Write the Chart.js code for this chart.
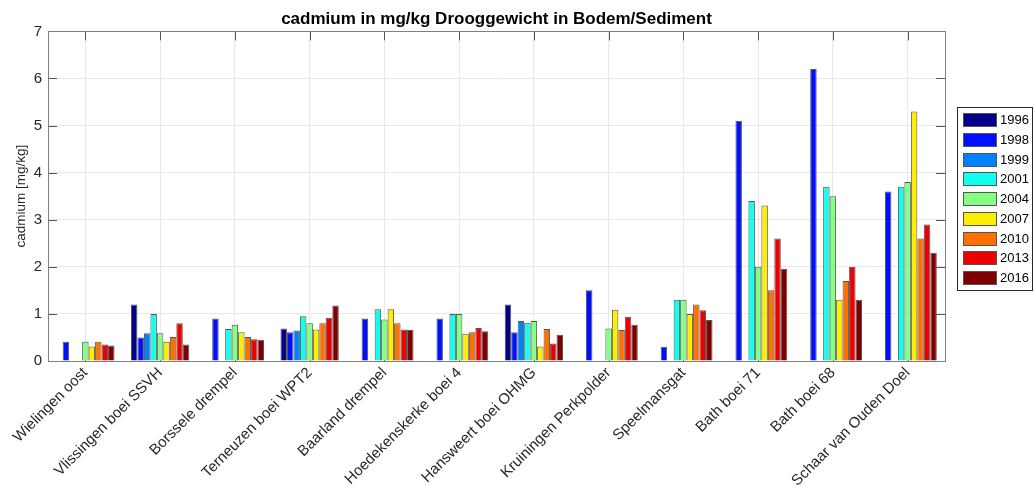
<!DOCTYPE html>
<html>
<head>
<meta charset="utf-8">
<script src="https://cdn.jsdelivr.net/npm/chart.js@4.4.1/dist/chart.umd.min.js"></script>
<style>
  html, body { margin: 0; padding: 0; background: #fff; }
  #wrap { width: 1034px; height: 486px; position: relative; }
</style>
</head>
<body>
<div id="wrap"><canvas id="cdChart"></canvas></div>
<script>
const locaties = ['Wielingen oost', 'Vlissingen boei SSVH', 'Borssele drempel', 'Terneuzen boei WPT2',
    'Baarland drempel', 'Hoedekenskerke boei 4', 'Hansweert boei OHMG', 'Kruiningen Perkpolder',
    'Speelmansgat', 'Bath boei 71', 'Bath boei 68', 'Schaar van Ouden Doel'];

const jaren = ['1996', '1998', '1999', '2001', '2004', '2007', '2010', '2013', '2016'];
const kleuren = ['#000088', '#0010ff', '#0082ff', '#10ffee', '#84ff84', '#ffee00', '#ff7000', '#ee0000', '#800000'];

const y1996 = [null, 1.2, null, 0.69, null, null, 1.2, null, null, null, null, null];
const y1998 = [0.41, 0.5, 0.9, 0.61, 0.9, 0.9, 0.61, 1.5, 0.3, 5.1, 6.2, 3.6];
const y1999 = [null, 0.59, null, 0.65, null, null, 0.85, null, null, null, null, null];
const y2001 = [null, 1.0, 0.68, 0.95, 1.1, 1.0, 0.81, null, 1.3, 3.4, 3.7, 3.7];
const y2004 = [0.41, 0.59, 0.77, 0.8, 0.88, 1.0, 0.85, 0.69, 1.3, 2.0, 3.5, 3.8];
const y2007 = [0.31, 0.41, 0.61, 0.67, 1.1, 0.58, 0.31, 1.09, 1.0, 3.3, 1.3, 5.3];
const y2010 = [0.41, 0.51, 0.51, 0.8, 0.8, 0.61, 0.68, 0.66, 1.2, 1.5, 1.7, 2.6];
const y2013 = [0.35, 0.8, 0.46, 0.92, 0.67, 0.7, 0.37, 0.94, 1.08, 2.6, 2.0, 2.9];
const y2016 = [0.33, 0.35, 0.45, 1.18, 0.66, 0.63, 0.56, 0.77, 0.87, 1.96, 1.3, 2.3];

const reeksen = [y1996, y1998, y1999, y2001, y2004, y2007, y2010, y2013, y2016];

const yTicks = [0, 1, 2, 3, 4, 5, 6, 7];

// tickjes naar binnen (achter de balken, zoals matlab)
const tickPlugin = {
    id: 'binnenTicks',
    beforeDatasetsDraw(chart) {
        const ctx = chart.ctx;
        const a = chart.chartArea;
        const xs = chart.scales.x;
        const ys = chart.scales.y;
        ctx.save();
        ctx.strokeStyle = '#555';
        ctx.lineWidth = 1;
        ctx.beginPath();
        for (let i = 0; i < locaties.length; i++) {
            const px = Math.round(xs.getPixelForValue(i)) + 0.5;
            ctx.moveTo(px, a.bottom); ctx.lineTo(px, a.bottom - 9);
            ctx.moveTo(px, a.top); ctx.lineTo(px, a.top + 9);
        }
        yTicks.forEach(v => {
            const py = Math.round(ys.getPixelForValue(v)) + 0.5;
            ctx.moveTo(a.left, py); ctx.lineTo(a.left + 9, py);
            ctx.moveTo(a.right, py); ctx.lineTo(a.right - 9, py);
        });
        ctx.stroke();
        ctx.restore();
    }
};

// kader om de plot en een eigen legenda rechts
const kaderPlugin = {
    id: 'kader',
    afterDraw(chart) {
        const ctx = chart.ctx;
        const a = chart.chartArea;
        ctx.save();
        ctx.strokeStyle = '#808080';
        ctx.lineWidth = 1;
        ctx.strokeRect(Math.round(a.left) + 0.5, Math.round(a.top) + 0.5,
            Math.round(a.right - a.left), Math.round(a.bottom - a.top));

        // legenda
        const lx = 957.5, ly = 107.5, lw = 75, lh = 183;
        ctx.fillStyle = '#fff';
        ctx.fillRect(lx, ly, lw, lh);
        ctx.strokeStyle = '#262626';
        ctx.strokeRect(lx, ly, lw, lh);
        ctx.font = '13px "Liberation Sans"';
        ctx.textBaseline = 'middle';
        jaren.forEach((jaar, i) => {
            const top = Math.round(113 + i * 19.75);
            ctx.fillStyle = kleuren[i];
            ctx.fillRect(963, top, 34, 14);
            ctx.strokeStyle = '#555';
            ctx.strokeRect(963.5, top + 0.5, 33, 13);
            ctx.fillStyle = '#000';
            ctx.fillText(jaar, 1000, top + 7.5);
        });
        ctx.restore();
    }
};

const ctx = document.getElementById('cdChart').getContext('2d');
new Chart(ctx, {
    type: 'bar',
    data: {
        labels: locaties,
        datasets: jaren.map((jaar, i) => ({
            label: jaar,
            data: reeksen[i],
            backgroundColor: kleuren[i],
            borderColor: '#555',
            borderWidth: 1,
            categoryPercentage: 0.78,
            barPercentage: 1.0
        }))
    },
    options: {
        responsive: true,
        maintainAspectRatio: false,
        animation: false,
        layout: { padding: { left: 0, right: 89, top: 0, bottom: 0 } },
        plugins: {
            title: {
                display: true,
                fullSize: false,
                text: 'cadmium in mg/kg Drooggewicht in Bodem/Sediment',
                color: '#000',
                font: { family: 'Liberation Sans', size: 17, weight: 'bold' },
                padding: { top: 9, bottom: 2 }
            },
            legend: { display: false },
            tooltip: { enabled: false }
        },
        scales: {
            x: {
                grid: { offset: false, color: '#e8e8e8', drawTicks: false },
                border: { display: false },
                afterFit: scale => { scale.height = 125; },
                ticks: {
                    color: '#262626',
                    maxRotation: 45,
                    minRotation: 45,
                    autoSkip: false,
                    padding: 3,
                    font: { family: 'Liberation Sans', size: 15 }
                }
            },
            y: {
                min: 0,
                max: 7,
                grid: { color: '#e8e8e8', drawTicks: false },
                border: { display: false },
                afterBuildTicks: scale => { scale.ticks = yTicks.map(v => ({ value: v })); },
                afterFit: scale => { scale.width = 48; },
                ticks: {
                    color: '#262626',
                    padding: 6,
                    font: { family: 'Liberation Sans', size: 15 }
                },
                title: {
                    display: true,
                    text: 'cadmium [mg/kg]',
                    color: '#262626',
                    font: { family: 'Liberation Sans', size: 13.5 },
                    padding: { top: 13, bottom: 4 }
                }
            }
        }
    },
    plugins: [tickPlugin, kaderPlugin]
});
</script>
</body>
</html>
